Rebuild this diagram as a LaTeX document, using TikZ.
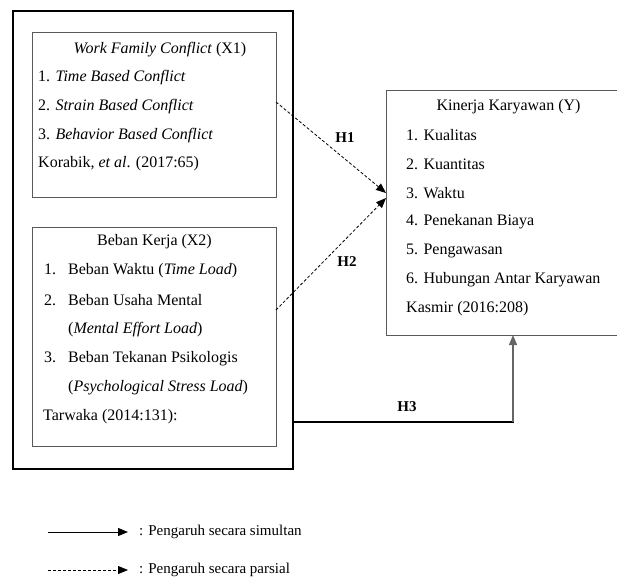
\documentclass[tikz,border=0pt]{standalone}
\usepackage{fontspec}
\setmainfont{Liberation Serif}
\usetikzlibrary{arrows.meta}
\begin{document}
\begin{tikzpicture}[x=1pt,y=-1pt,
  txt/.style={anchor=west,inner sep=0pt,font=\fontsize{16}{19}\selectfont},
  ctxt/.style={anchor=center,inner sep=0pt,font=\fontsize{16}{19}\selectfont},
  hlab/.style={anchor=center,inner sep=0pt,font=\fontsize{15}{18}\selectfont\bfseries},
  ltxt/.style={anchor=west,inner sep=0pt,font=\fontsize{15}{18}\selectfont},
  outerbox/.style={draw=black,line width=1.5pt,rectangle,inner sep=0pt,outer sep=0pt},
  inbox/.style={draw=black!65,line width=1pt,rectangle,inner sep=0pt,outer sep=0pt},
  tip/.style={-{Triangle[length=10pt,width=8pt]}},
  dasharrow/.style={tip,black,line width=0.8pt,dash pattern=on 3pt off 2pt},
  solidarrow/.style={tip,black,line width=1pt},
  h3h/.style={black,line width=1.8pt},
  h3v/.style={tip,black!60,line width=1.3pt}
]
\useasboundingbox (0,0) rectangle (617,578);
% boxes
\node[outerbox,minimum width=280pt,minimum height=458pt] (outer) at (153,240) {};
\node[inbox,minimum width=244pt,minimum height=164pt] (x1) at (154,115) {};
\node[inbox,minimum width=244pt,minimum height=219pt] (x2) at (154,336.5) {};
\node[inbox,minimum width=239pt,minimum height=245pt] (ky) at (505.5,212.5) {};
% X1 text
\node[ctxt] (x1t) at (160,50) {\textit{Work Family Conflict} (X1)};
\node[txt] (x1a) at (38,78) {1. \textit{Time Based Conflict}};
\node[txt] (x1b) at (38,107) {2. \textit{Strain Based Conflict}};
\node[txt] (x1c) at (38,136) {3. \textit{Behavior Based Conflict}};
\node[txt] (x1d) at (38,164) {Korabik, \textit{et al}. (2017:65)};
% X2 text
\node[ctxt] (x2t) at (154.5,242) {Beban Kerja (X2)};
\node[txt] (x2a) at (44,271) {\makebox[24pt][l]{1.}Beban Waktu (\textit{Time Load})};
\node[txt] (x2b) at (44,300) {\makebox[24pt][l]{2.}Beban Usaha Mental};
\node[txt] (x2c) at (68,329.5) {(\textit{Mental Effort Load})};
\node[txt] (x2d) at (44,359) {\makebox[24pt][l]{3.}Beban Tekanan Psikologis};
\node[txt] (x2e) at (68,388) {(\textit{Psychological Stress Load})};
\node[txt] (x2f) at (43,417) {Tarwaka (2014:131):};
% Y text
\node[ctxt] (yt) at (508.5,107) {Kinerja Karyawan (Y)};
\node[txt] (ya) at (406,135) {1. Kualitas};
\node[txt] (yb) at (406,164) {2. Kuantitas};
\node[txt] (yc) at (406,193) {3. Waktu};
\node[txt] (yd) at (406,222) {4. Penekanan Biaya};
\node[txt] (ye) at (406,251) {5. Pengawasan};
\node[txt] (yf) at (406,280) {6. Hubungan Antar Karyawan};
\node[txt] (yg) at (406,309) {Kasmir (2016:208)};
% connectors
\draw[dasharrow] ([yshift=13pt]x1.east) -- ([yshift=19.5pt]ky.west);
\draw[dasharrow] ([yshift=26.5pt]x2.east) -- ([yshift=14.5pt]ky.west);
\coordinate (h3corner) at (513,422);
\draw[h3h] ([yshift=-182pt]outer.east) -- ([xshift=0.9pt]h3corner);
\draw[h3v] (h3corner) -- ([xshift=7.5pt]ky.south);
\node[hlab] (h1) at (345,138) {H1};
\node[hlab] (h2) at (347,262) {H2};
\node[hlab] (h3) at (407,407) {H3};
% legend
\coordinate (l1a) at (48,532);
\coordinate (l1b) at (128,532);
\coordinate (l2a) at (48,570);
\coordinate (l2b) at (128,570);
\draw[solidarrow] (l1a) -- (l1b);
\draw[dasharrow] (l2a) -- (l2b);
\node[ltxt] (lt1) at (139,532) {: Pengaruh secara simultan};
\node[ltxt] (lt2) at (139,570) {: Pengaruh secara parsial};
\end{tikzpicture}
\end{document}
